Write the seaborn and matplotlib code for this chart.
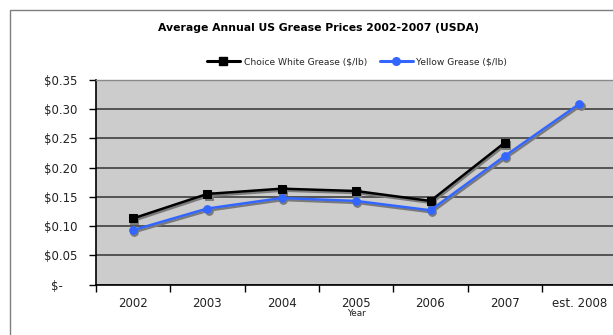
import numpy as np
import pandas as pd
import matplotlib
matplotlib.use("Agg")
import matplotlib.pyplot as plt
import matplotlib.transforms as mtransforms
from matplotlib.patches import Rectangle
from matplotlib.lines import Line2D
import seaborn as sns

years = ["2002", "2003", "2004", "2005", "2006", "2007", "est. 2008"]
choice_white = [0.113, 0.155, 0.164, 0.160, 0.143, 0.243, np.nan]
yellow = [0.093, 0.130, 0.148, 0.143, 0.127, 0.220, 0.309]
y_ticks = [0.0, 0.05, 0.10, 0.15, 0.20, 0.25, 0.30, 0.35]
y_labels = ["$-    ", "$0.05", "$0.10", "$0.15", "$0.20", "$0.25", "$0.30", "$0.35"]
title = "Average Annual US Grease Prices 2002-2007 (USDA)"
name_cw = "Choice White Grease ($/lb)"
name_y = "Yellow Grease ($/lb)"

df_cw = pd.DataFrame({"Year": years, "Price": choice_white})
df_y = pd.DataFrame({"Year": years, "Price": yellow})

sns.set_style("white")
plt.rcParams["font.family"] = ["DejaVu Sans"]

fig = plt.figure(figsize=(6.13, 3.35), dpi=100)
fig.patches.append(Rectangle((10 / 613, -0.05), 1.2, 1 - 10 / 335 + 0.05,
                             transform=fig.transFigure, fill=False,
                             edgecolor="#7f7f7f", linewidth=1.0))

ax = fig.add_axes([95.7 / 613, 1 - 284.5 / 335, (616.5 - 95.7) / 613, (284.5 - 80) / 335])
ax.set_facecolor("#cccccc")

pos = np.arange(len(years))
shadow_tr = mtransforms.offset_copy(ax.transData, fig=fig, x=1.2, y=-2.0, units="dots")

series = [(df_cw, "black", "s", 6.0, name_cw), (df_y, "#3366ff", "o", 5.5, name_y)]
for df, col, mk, ms, nm in series:
    # drop shadow
    sns.lineplot(x=pos, y=df["Price"].to_numpy(), ax=ax, color="#7a7a7a",
                 marker=mk, markersize=ms, markeredgecolor="#7a7a7a", linewidth=1.8,
                 transform=shadow_tr, legend=False, zorder=2)
    sns.lineplot(x=pos, y=df["Price"].to_numpy(), ax=ax, color=col,
                 marker=mk, markersize=ms, markeredgecolor=col, linewidth=1.8,
                 legend=False, zorder=3)

ax.set_xlim(-0.5, len(years) - 0.5)
ax.set_ylim(0, 0.35)
ax.set_yticks(y_ticks)
ax.set_yticklabels(y_labels, fontsize=8.5, color="#222222")
ax.yaxis.grid(True, color="#333333", linewidth=1.1)
ax.set_axisbelow(True)

ax.set_xticks(np.arange(len(years) + 1) - 0.5)
ax.set_xticklabels([""] * (len(years) + 1))
ax.set_xticks(pos, minor=True)
ax.set_xticklabels(years, minor=True, fontsize=8.5, color="#222222")
ax.tick_params(axis="x", which="major", direction="out", length=5, width=1, color="black", bottom=True)
ax.tick_params(axis="x", which="minor", length=0, pad=9)
ax.tick_params(axis="y", direction="out", length=5, width=1, color="black", left=True, pad=8)

ax.set_xlabel("Year", fontsize=6.4, color="#222222")
ax.xaxis.set_label_coords(0.5, -0.122)
ax.set_ylabel("")

for s in ["left", "bottom"]:
    ax.spines[s].set_color("black")
    ax.spines[s].set_linewidth(1.2)
ax.spines["top"].set_color("#8a8a8a")
ax.spines["top"].set_linewidth(1.0)
ax.spines["right"].set_visible(False)

fig.text(318 / 613, 1 - 27.7 / 335, title, ha="center", va="center",
         fontsize=7.8, fontweight="bold", color="black")

handles = [Line2D([], [], color="black", marker="s", markersize=6, linewidth=2.2),
           Line2D([], [], color="#3366ff", marker="o", markersize=5.5, linewidth=2.2)]
fig.legend(handles, [name_cw, name_y], loc="center", ncol=2,
           bbox_to_anchor=(357 / 613, 1 - 61.7 / 335), frameon=False,
           fontsize=6.6, handlelength=3.6, handletextpad=0.4, columnspacing=1.4)

fig.savefig("out.png", dpi=100)
